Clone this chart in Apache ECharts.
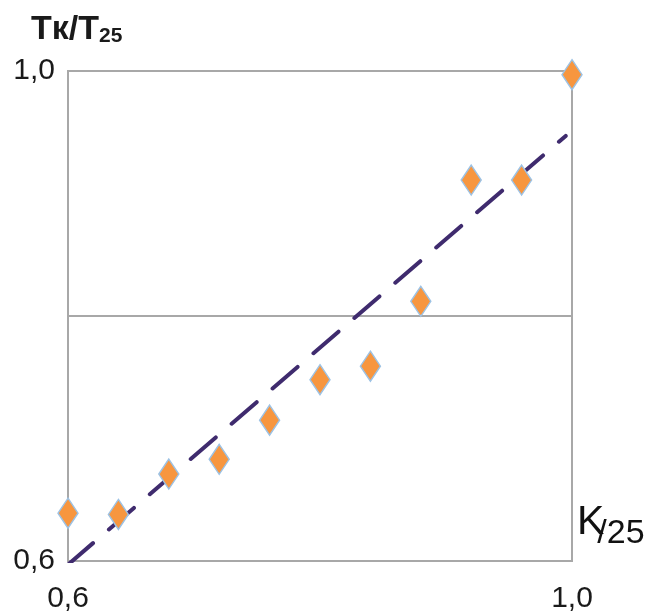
<!DOCTYPE html>
<html>
<head>
<meta charset="utf-8">
<script src="https://cdn.jsdelivr.net/npm/echarts@6/dist/echarts.min.js"></script>
<style>html,body{margin:0;padding:0;background:#fff;}#c{width:653px;height:614px;}</style>
</head>
<body>
<div id="c"></div>
<script>
var xValues = [0.60, 0.64, 0.68, 0.72, 0.76, 0.80, 0.84, 0.88, 0.92, 0.96, 1.00];
var yValues = [0.639, 0.638, 0.671, 0.683, 0.715, 0.748, 0.759, 0.812, 0.911, 0.911, 0.997];
var trendX = [0.60, 0.995];
var trendY = [0.597, 0.947];
var xTickLabels = ['0,6', '1,0'];
var yTickLabels = ['0,6', '1,0'];

var pts = xValues.map(function (x, i) { return [x, yValues[i]]; });
var trend = trendX.map(function (x, i) { return [x, trendY[i]]; });

function fmt(v, labels) {
  if (Math.abs(v - 0.6) < 1e-6) return labels[0];
  if (Math.abs(v - 1.0) < 1e-6) return labels[1];
  return '';
}

var chart = echarts.init(document.getElementById('c'));
chart.setOption({
  animation: false,
  backgroundColor: '#fff',
  grid: { left: 68, right: 81, top: 71, bottom: 52, show: true, borderColor: '#a8a8a8', borderWidth: 2, backgroundColor: 'transparent' },
  xAxis: {
    type: 'value', min: 0.6, max: 1.0, interval: 0.2,
    axisLine: { show: true, lineStyle: { color: '#a8a8a8', width: 2 } },
    axisTick: { show: false },
    splitLine: { show: false },
    axisLabel: { formatter: function (v) { return fmt(v, xTickLabels); }, fontFamily: 'Liberation Sans, Arial', fontSize: 30, color: '#1a1a1a', margin: 23 }
  },
  yAxis: {
    type: 'value', min: 0.6, max: 1.0, interval: 0.2,
    axisLine: { show: true, lineStyle: { color: '#a8a8a8', width: 2 } },
    axisTick: { show: false },
    splitLine: { show: true, lineStyle: { color: '#a8a8a8', width: 2 } },
    axisLabel: { formatter: function (v) { return fmt(v, yTickLabels); }, fontFamily: 'Liberation Sans, Arial', fontSize: 30, color: '#1a1a1a', margin: 13 }
  },
  graphic: [
    {
      type: 'text', left: 31, top: 13,
      style: {
        text: '{a|Tк/T}{b|25}',
        rich: {
          a: { fontFamily: 'Liberation Sans, Arial', fontWeight: 'bold', fontSize: 34, fill: '#1a1a1a' },
          b: { fontFamily: 'Liberation Sans, Arial', fontWeight: 'bold', fontSize: 21, fill: '#1a1a1a', padding: [12, 0, 0, 0] }
        }
      }
    },
    {
      type: 'text', left: 577, top: 502,
      style: {
        text: '{a|K}{b|/25}',
        rich: {
          a: { fontFamily: 'Liberation Sans, Arial', fontSize: 41, fill: '#111' },
          b: { fontFamily: 'Liberation Sans, Arial', fontSize: 34, fill: '#111', padding: [22, 0, 0, -7] }
        }
      }
    }
  ],
  series: [
    {
      type: 'line', data: trend, showSymbol: false, silent: true, z: 3,
      lineStyle: { color: '#3f2b6e', width: 4, type: [33, 21], cap: 'round' }
    },
    {
      type: 'scatter', data: pts, symbol: 'diamond', symbolSize: [20, 30], z: 4,
      itemStyle: { color: '#f7963f', borderColor: '#9cc2e5', borderWidth: 1.5, opacity: 1 }
    }
  ]
});
</script>
</body>
</html>
